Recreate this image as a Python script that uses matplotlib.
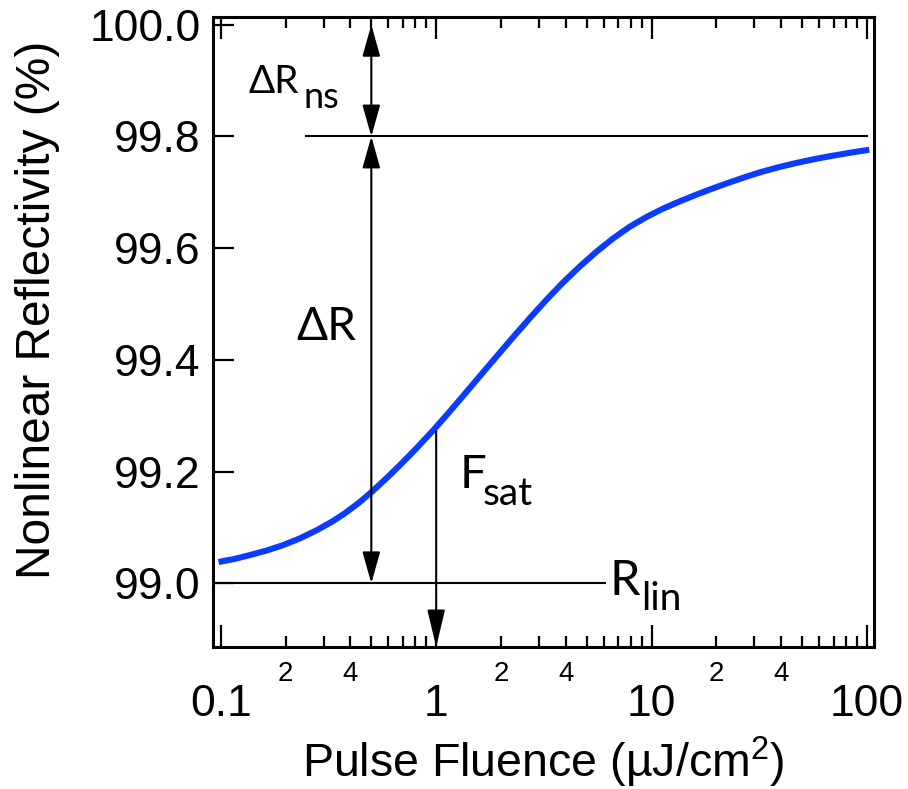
import numpy as np
import matplotlib
matplotlib.use('Agg')
import matplotlib.pyplot as plt
from matplotlib.ticker import FixedLocator, FixedFormatter

# values
fluence = [0.0977, 0.1155, 0.137, 0.1625, 0.1949, 0.2335, 0.277, 0.3321, 0.3815, 0.443,
           0.5036, 0.5845, 0.6787, 0.8052, 0.9654, 1.133, 1.329, 1.594, 1.911, 2.267,
           2.718, 3.258, 3.865, 4.634, 5.556, 6.592, 7.899, 9.471, 11.23, 13.47, 16.15,
           19.15, 22.96, 27.54, 32.65, 39.15, 46.94, 55.67, 66.75, 82.6, 102.3]
reflect = [99.0382, 99.0435, 99.0507, 99.0584, 99.0684, 99.0806, 99.0944, 99.1114, 99.1268,
           99.1458, 99.1641, 99.1872, 99.2115, 99.2407, 99.2733, 99.3036, 99.3349, 99.3709,
           99.4066, 99.4399, 99.4747, 99.5081, 99.5379, 99.5671, 99.5939, 99.6169, 99.6382,
           99.6559, 99.6703, 99.6837, 99.6959, 99.7068, 99.7177, 99.7281, 99.7371, 99.7453,
           99.7526, 99.7587, 99.7645, 99.7706, 99.7763]

r_lin = 99.0
r_ns = 99.8
r_top = 100.0
f_sat = 1.0
r_at_fsat = 99.272
f_arrow = 0.5
ns_line = [0.25, 100]
lin_line = [0.0921, 6.1]

yticks = [99.0, 99.2, 99.4, 99.6, 99.8, 100.0]
xmajor = [0.1, 1, 10, 100]
xmajor_labels = ['0.1', '1', '10', '100']
xminor = [m * d for d in [0.1, 1, 10] for m in range(2, 10)]
xminor_labels = [str(m) if m in (2, 4) else '' for d in [0.1, 1, 10] for m in range(2, 10)]

plt.rcParams['font.family'] = ['Liberation Sans', 'DejaVu Sans']
ann_font = ['Lato', 'DejaVu Sans']

fig = plt.figure(figsize=(9.08, 7.89), dpi=100)
ax = fig.add_axes([0.2346, 0.1800, 0.7280, 0.7985])

ax.plot(fluence, reflect, color='#0a3cff', lw=4.4, solid_capstyle='butt',
        solid_joinstyle='round', zorder=3)

ax.plot(ns_line, [r_ns, r_ns], color='black', lw=1.5)
ax.plot(lin_line, [r_lin, r_lin], color='black', lw=1.5)

arw = dict(arrowstyle='<|-|>,head_length=1.95,head_width=0.55', color='black', lw=1.5,
           shrinkA=0, shrinkB=0, mutation_scale=10)
ax.annotate('', xy=(f_arrow, r_top), xytext=(f_arrow, r_ns), arrowprops=arw)
ax.annotate('', xy=(f_arrow, r_ns), xytext=(f_arrow, r_lin), arrowprops=arw)
arw1 = dict(arw, arrowstyle='-|>,head_length=2.3,head_width=0.55')
ax.annotate('', xy=(f_sat, 98.886), xytext=(f_sat, r_at_fsat), arrowprops=arw1)

ax.set_xscale('log')
ax.set_xlim(0.0921, 107.7)
ax.set_ylim(98.886, 100.014)

# labels on the graph
ax.text(0.135, 99.878, 'ΔR', fontsize=28, family=ann_font)
ax.text(0.243, 99.851, 'ns', fontsize=26, family=ann_font)
ax.text(0.224, 99.436, 'ΔR', fontsize=33, family=ann_font)
ax.text(1.29, 99.171, 'F', fontsize=34, family=ann_font)
ax.text(1.64, 99.140, 'sat', fontsize=28, family=ann_font)
ax.text(6.4, 98.979, 'R', fontsize=35, family=ann_font)
ax.text(8.9, 98.952, 'lin', fontsize=28, family=ann_font)

ax.xaxis.set_major_locator(FixedLocator(xmajor))
ax.xaxis.set_major_formatter(FixedFormatter(xmajor_labels))
ax.xaxis.set_minor_locator(FixedLocator(xminor))
ax.xaxis.set_minor_formatter(FixedFormatter(xminor_labels))
ax.set_yticks(yticks)
ax.set_yticklabels(['%.1f' % v for v in yticks])

ax.tick_params(axis='x', which='major', direction='in', top=True, length=15.5, width=1.6,
               labelsize=32, pad=27)
ax.tick_params(axis='x', which='minor', direction='in', top=True, length=8, width=1.6,
               labelsize=20, pad=10)
ax.tick_params(axis='y', which='major', direction='in', right=False, length=15, width=1.6,
               labelsize=32, pad=9)
for s in ax.spines.values():
    s.set_linewidth(2.2)

ax.set_ylabel('Nonlinear Reflectivity (%)', fontsize=34.5, va='center')
ax.yaxis.set_label_coords(-0.266, 0.535)
ax.set_xlabel('Pulse Fluence (µJ/cm$\\mathregular{^2}$)', fontsize=33.5)
ax.xaxis.set_label_coords(0.5, -0.14)

fig.savefig('out.png', dpi=100)
